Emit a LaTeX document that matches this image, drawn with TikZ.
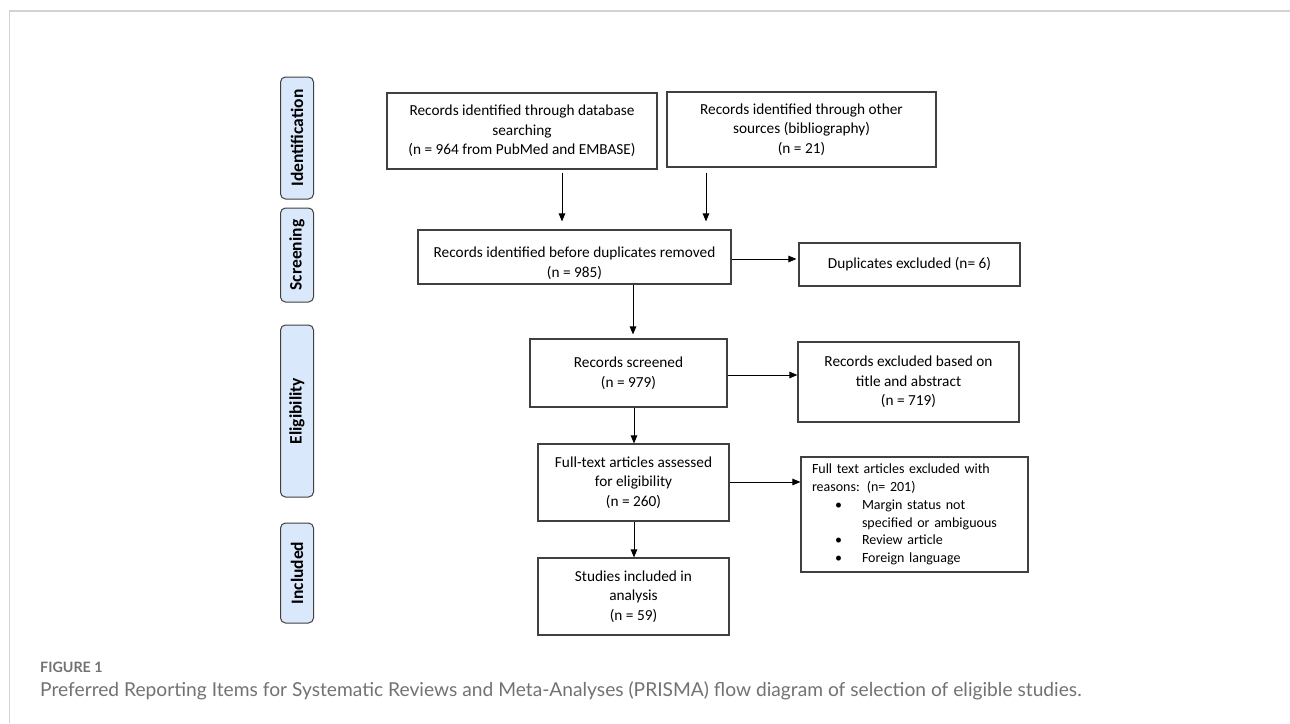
\documentclass[tikz,border=0pt]{standalone}
\usepackage{fontspec}
\setmainfont{Carlito}
\newfontfamily\capfont{Lato}
\usetikzlibrary{arrows.meta}
\definecolor{phasefill}{HTML}{DAE8FC}
\definecolor{boxline}{HTML}{404040}
\definecolor{capgray}{HTML}{727272}
\definecolor{framegray}{HTML}{D3D3D3}
\tikzset{
  box/.style={draw=boxline, line width=1.1pt, align=center, inner sep=0pt,
    font=\fontsize{15.3}{19.5}\selectfont},
  boxtext/.style={align=center, inner sep=0pt, font=\fontsize{15.3}{19.5}\selectfont},
  phase/.style={draw=boxline, fill=phasefill, rounded corners=5pt, line width=1pt,
    rotate=90, inner sep=0pt, font=\fontsize{17.5}{20}\selectfont\bfseries},
  arr/.style={-{Triangle[length=8pt,width=6.5pt]}, line width=1pt, black},
}
\begin{document}
\begin{tikzpicture}[x=1pt,y=-1pt]
\useasboundingbox (0,0) rectangle (1290,723);
% frame
\draw[framegray, line width=2pt] (9,11) -- (1290,11);
\draw[framegray, line width=1pt] (9,11) -- (9,723);
% phases
\node[phase, minimum width=122pt, minimum height=33pt] (pI) at (297,138) {Identification};
\node[phase, minimum width=94pt, minimum height=33pt] (pS) at (297,255) {Screening};
\node[phase, minimum width=172pt, minimum height=33pt] (pE) at (297,411) {Eligibility};
\node[phase, minimum width=100pt, minimum height=33pt] (pN) at (297,573) {Included};
% boxes
\node[box, minimum width=270pt, minimum height=76pt] (b1) at (522,131)
  {Records identified through database\\searching\\(n = 964 from PubMed and EMBASE)};
\node[box, minimum width=269pt, minimum height=75pt] (b2) at (801.5,129.5)
  {Records identified through other\\sources (bibliography)\\(n = 21)};
\node[box, minimum width=313pt, minimum height=54pt] (b3) at (574.5,257) {};
\node[boxtext] (b3t) at ([yshift=-6pt]b3.center)
  {Records identified before duplicates removed\\(n = 985)};
\node[box, minimum width=221pt, minimum height=43pt] (dup) at (909.5,264.5)
  {Duplicates excluded (n= 6)};
\node[box, minimum width=197pt, minimum height=68pt] (scr) at (628.5,373)
  {Records screened\\(n = 979)};
\node[box, minimum width=221pt, minimum height=80pt] (exA) at (908.5,382)
  {Records excluded based on\\title and abstract\\(n = 719)};
\node[box, minimum width=191pt, minimum height=77pt] (ft) at (633.5,482.5)
  {Full-text articles assessed\\for eligibility\\(n = 260)};
\node[box, minimum width=227pt, minimum height=115pt, align=left, text width=205pt,
  font=\fontsize{14}{17.7}\selectfont] (exB) at (914.5,514.5)
  {Full text articles excluded with\\
   reasons: (n=~201)\\
   \hspace*{23pt}\makebox[27pt][l]{•}Margin status not\\
   \hspace*{50pt}specified or ambiguous\\
   \hspace*{23pt}\makebox[27pt][l]{•}Review article\\
   \hspace*{23pt}\makebox[27pt][l]{•}Foreign language};
\node[box, minimum width=191pt, minimum height=77pt] (st) at (633.5,596.5)
  {Studies included in\\analysis\\(n = 59)};
% connector guides
\coordinate (xa) at (562,0);
\coordinate (xb) at (706,0);
\coordinate (xc) at (633,0);
\coordinate (xd) at (634,0);
\coordinate (yd) at (0,259);
\coordinate (ye) at (0,375);
\coordinate (yf) at (0,482);
% connectors
\draw[arr, shorten <=3pt, shorten >=8pt] (b1.south -| xa) -- (b3.north -| xa);
\draw[arr, shorten <=5pt, shorten >=8pt] (b2.south -| xb) -- (b3.north -| xb);
\draw[arr, shorten >=2pt] (b3.east |- yd) -- (dup.west |- yd);
\draw[arr, shorten >=4pt] (b3.south -| xc) -- (scr.north -| xc);
\draw[arr] (scr.south -| xd) -- (ft.north -| xd);
\draw[arr] (ft.south -| xd) -- (st.north -| xd);
\draw[arr] (scr.east |- ye) -- (exA.west |- ye);
\draw[arr] (ft.east |- yf) -- (exB.west |- yf);
% caption
\node[anchor=base west, inner sep=0pt, text=capgray,
  font=\capfont\fontsize{14.3}{16}\selectfont\bfseries] (figlab) at (40,672) {FIGURE 1};
\node[anchor=base west, inner sep=0pt, text=capgray,
  font=\capfont\fontsize{19.2}{22}\selectfont] (cap) at (40,696)
  {Preferred Reporting Items for Systematic Reviews and Meta-Analyses (PRISMA) flow diagram of selection of eligible studies.};
\end{tikzpicture}
\end{document}
